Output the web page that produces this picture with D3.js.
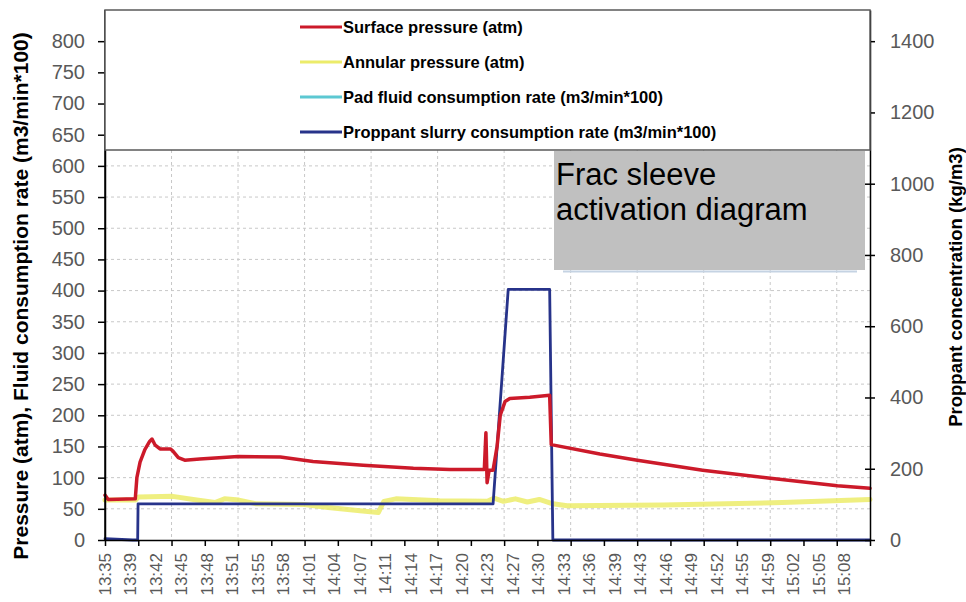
<!DOCTYPE html>
<html>
<head>
<meta charset="utf-8">
<script src="https://cdn.jsdelivr.net/npm/d3@7"></script>
<style>
  body { margin: 0; background: #fff; }
  svg { display: block; }
  .axis text { font-family: "Liberation Sans", Arial, sans-serif; font-size: 20px; fill: #595959; }
  .axis path, .axis line { stroke: #000; stroke-width: 1.5; }
  .grid line { stroke: #c8c8c8; stroke-width: 1; stroke-dasharray: 3,3; }
  .line { fill: none; stroke-linejoin: round; stroke-linecap: round; }
</style>
</head>
<body>
<svg id="chart" width="966" height="602"></svg>
<script>
/* ===========================================================
   Frac sleeve activation diagram
   =========================================================== */

// time axis: minutes after 13:35
const timeLabels = ['13:35', '13:39', '13:42', '13:45', '13:48', '13:51', '13:55', '13:58',
  '14:01', '14:04', '14:07', '14:11', '14:14', '14:17', '14:20', '14:23', '14:27', '14:30',
  '14:33', '14:36', '14:39', '14:43', '14:46', '14:49', '14:52', '14:55', '14:59', '15:02',
  '15:05', '15:08'];
const labelStep = 3.2;   // minutes between labels
const timeMax = 96;
const tickCount = 23;

const leftTicks = d3.range(0, 801, 50);
const rightTicks = d3.range(0, 1401, 200);

const seriesNames = [
  'Surface pressure (atm)',
  'Annular pressure (atm)',
  'Pad fluid consumption rate (m3/min*100)',
  'Proppant slurry consumption rate (m3/min*100)'
];

// [minute, value]
const surfacePressure = [
  [0, 72], [0.4, 65], [3.8, 66], [4.0, 100], [4.4, 125], [5.0, 145], [5.6, 158], [5.9, 162],
  [6.3, 152], [6.9, 146], [8.2, 146], [8.5, 143], [9.2, 132], [10.0, 128], [11.9, 130],
  [16.7, 134], [22.0, 133], [26.1, 126], [32.4, 120], [38.7, 115], [43.3, 113], [47.6, 113],
  [47.8, 172], [47.95, 92], [48.2, 112], [48.7, 112], [49.2, 150], [49.6, 200], [50.2, 222],
  [50.8, 227], [53.3, 229], [55.8, 232], [56.0, 153], [62.1, 138], [66.8, 128], [75.0, 112],
  [83.5, 99], [91.9, 87], [96, 83]
];

const annularPressure = [
  [0, 64], [3.8, 64], [4.2, 69], [8.5, 70], [11.5, 64], [13.8, 60], [15.0, 66], [16.8, 64],
  [19.0, 58], [25.0, 57], [28.0, 52], [32.0, 47], [34.3, 44], [35.0, 62], [36.5, 66],
  [42.0, 63], [48.0, 62], [48.8, 67], [50.0, 62], [51.5, 66], [53.0, 61], [54.5, 65],
  [56.2, 58], [58.0, 55], [70.0, 56], [85.0, 60], [96, 65]
];

const padFluidRate = [];

const slurryRate = [
  [0, 2], [3.5, 0], [4.1, 0], [4.15, 58], [48.7, 58], [50.6, 402], [55.8, 402], [56.2, 0], [96, 0]
];

const COLORS = ['#cc1a2a', '#ecec6a', '#5cc8d2', '#27338a'];

function drawChart() {
  const margin = { top: 10, right: 96, bottom: 62, left: 105 };
  const W = 966 - margin.left - margin.right;
  const H = 602 - margin.top - margin.bottom;

  const svg = d3.select('#chart');
  svg.selectAll('*').remove();
  const g = svg.append('g').attr('transform', `translate(${margin.left},${margin.top})`);

  const x = d3.scaleLinear().domain([0, timeMax]).range([0, W]);
  const yL = d3.scaleLinear().domain([0, 850]).range([H, 0]);
  const yR = d3.scaleLinear().domain([0, 850 * 1.75]).range([H, 0]);

  const tickTimes = d3.range(tickCount + 1).map(i => i * timeMax / tickCount);

  // grid
  g.append('g').attr('class', 'grid')
    .selectAll('line').data(leftTicks.filter(v => v > 0 && v <= 600))
    .enter().append('line')
      .attr('x1', 0).attr('x2', W)
      .attr('y1', d => yL(d)).attr('y2', d => yL(d));

  g.append('g').attr('class', 'grid')
    .selectAll('line').data(tickTimes.filter((t, i) => i % 2 === 0 && i > 0 && i < tickCount))
    .enter().append('line')
      .attr('x1', d => x(d)).attr('x2', d => x(d))
      .attr('y1', 140).attr('y2', H);

  // series
  const line = d3.line().x(d => x(d[0])).y(d => yL(d[1]));

  g.append('path').datum(annularPressure).attr('class', 'line')
    .attr('stroke', COLORS[1]).attr('stroke-width', 5).attr('opacity', 0.85).attr('d', line);
  g.append('path').datum(padFluidRate).attr('class', 'line')
    .attr('stroke', COLORS[2]).attr('stroke-width', 2.5).attr('d', line);
  g.append('path').datum(slurryRate).attr('class', 'line')
    .attr('stroke', COLORS[3]).attr('stroke-width', 2.8).attr('d', line);
  g.append('path').datum(surfacePressure).attr('class', 'line')
    .attr('stroke', COLORS[0]).attr('stroke-width', 3.5).attr('d', line);

  // axes
  g.append('g').attr('class', 'axis')
    .call(d3.axisLeft(yL).tickValues(leftTicks).tickSize(7).tickSizeOuter(0).tickPadding(13));

  const right = g.append('g').attr('class', 'axis')
    .attr('transform', `translate(${W},0)`)
    .call(d3.axisRight(yR).tickValues(rightTicks).tickFormat(d3.format('d'))
      .tickSize(5).tickSizeOuter(0).tickPadding(15));
  right.selectAll('.tick line').attr('x1', -5);

  g.append('g').attr('class', 'axis')
    .attr('transform', `translate(0,${H})`)
    .call(d3.axisBottom(x).tickValues(tickTimes).tickSize(6).tickSizeOuter(0).tickFormat(''));

  // the axis domain paths stop at the top of the range
  g.append('line').attr('x1', 0).attr('x2', 0).attr('y1', 0).attr('y2', H)
    .attr('stroke', '#000').attr('stroke-width', 1.5);

  g.selectAll('.xlab')
    .data(timeLabels).enter().append('text')
      .attr('class', 'xlab')
      .attr('transform', (d, i) => `translate(${x(i * labelStep)},${H + 13}) rotate(-90)`)
      .attr('text-anchor', 'end')
      .attr('dy', '0.35em')
      .attr('font-family', '"Liberation Sans", Arial, sans-serif')
      .attr('font-size', 17)
      .attr('fill', '#595959')
      .text(d => d);

  // legend box
  g.append('rect')
    .attr('x', 0).attr('y', 0).attr('width', W).attr('height', 140)
    .attr('fill', '#fff').attr('stroke', '#595959').attr('stroke-width', 1.5);

  const legend = g.selectAll('.legend')
    .data(seriesNames).enter().append('g')
      .attr('class', 'legend')
      .attr('transform', (d, i) => `translate(195,${17 + i * 35})`);
  legend.append('line')
    .attr('x1', 0).attr('x2', 42)
    .attr('stroke', (d, i) => COLORS[i]).attr('stroke-width', 3);
  legend.append('text')
    .attr('x', 43).attr('dy', '0.35em')
    .attr('font-family', '"Liberation Sans", Arial, sans-serif')
    .attr('font-weight', 'bold').attr('font-size', 16.5)
    .attr('fill', '#000')
    .text(d => d);

  // title box
  g.append('line')
    .attr('x1', 458).attr('x2', 752).attr('y1', 261.5).attr('y2', 261.5)
    .attr('stroke', '#c5d3e3').attr('stroke-width', 2);
  g.append('rect')
    .attr('x', 449).attr('y', 141).attr('width', 311).attr('height', 119)
    .attr('fill', '#c0c0c0');
  const title = g.append('text')
    .attr('font-family', '"Liberation Sans", Arial, sans-serif')
    .attr('font-size', 31).attr('fill', '#000');
  title.append('tspan').attr('x', 451).attr('y', 175).text('Frac sleeve');
  title.append('tspan').attr('x', 451).attr('y', 210).text('activation diagram');

  // axis titles
  svg.append('text')
    .attr('transform', `translate(21,${296}) rotate(-90)`)
    .attr('text-anchor', 'middle').attr('dy', '0.35em')
    .attr('font-family', '"Liberation Sans", Arial, sans-serif')
    .attr('font-weight', 'bold').attr('font-size', 21)
    .text('Pressure (atm), Fluid consumption rate (m3/min*100)');

  svg.append('text')
    .attr('transform', `translate(956,${287}) rotate(-90)`)
    .attr('text-anchor', 'middle').attr('dy', '0.35em')
    .attr('font-family', '"Liberation Sans", Arial, sans-serif')
    .attr('font-weight', 'bold').attr('font-size', 18.5)
    .text('Proppant concentration (kg/m3)');
}

drawChart();
</script>
</body>
</html>
